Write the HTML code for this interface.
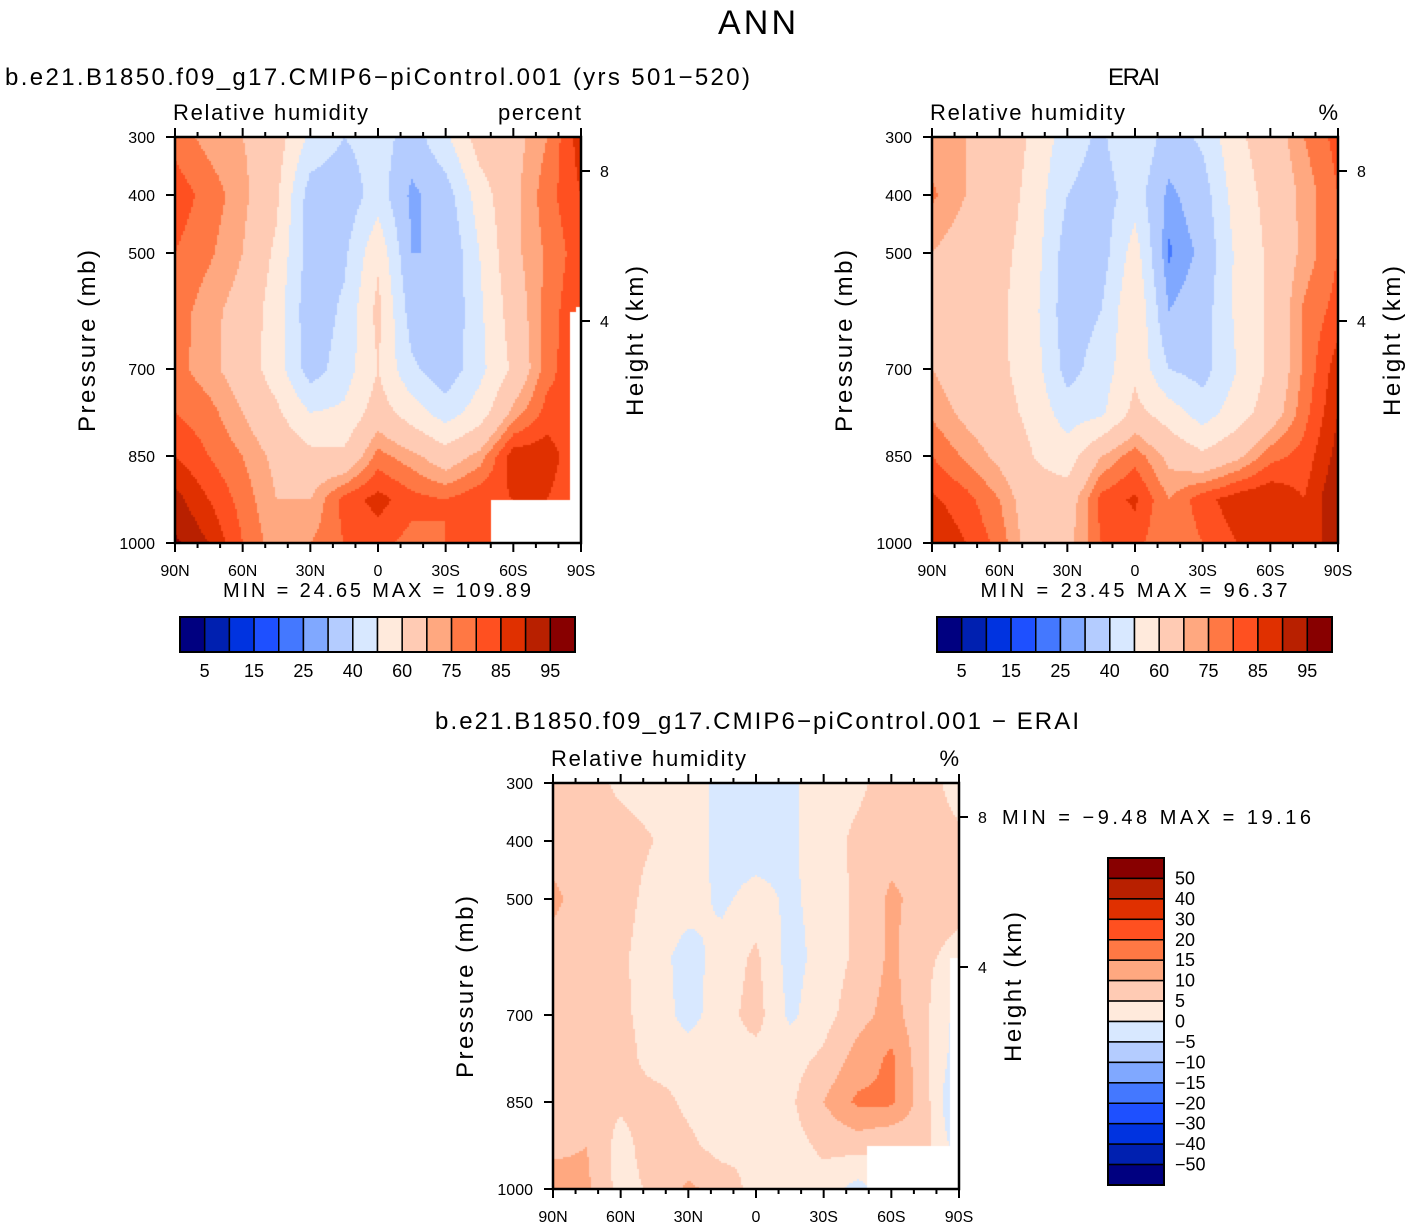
<!DOCTYPE html>
<html><head><meta charset="utf-8">
<style>
html,body{margin:0;padding:0;background:#fff;}
body{width:1411px;height:1228px;position:relative;overflow:hidden;font-family:"Liberation Sans",sans-serif;}
svg{position:absolute;left:0;top:0;}
canvas{position:absolute;}
</style></head>
<body>
<canvas id="c1" width="406" height="406" style="left:175px;top:137px"></canvas>
<canvas id="c2" width="406" height="406" style="left:932px;top:137px"></canvas>
<canvas id="c3" width="406" height="406" style="left:553px;top:783px"></canvas>
<svg id="s" width="1411" height="1228"></svg>
<script>
// ---- data ----
const lats = ["90N","75N","60N","45N","30N","15N","0","15S","30S","45S","60S","75S","90S"];
const pressures = [300,400,500,600,700,775,850,925,1000];
const xTickLabels = ["90N","60N","30N","0","30S","60S","90S"];
const yTickLabels = [300,400,500,700,850,1000];
const absLevels = [5,10,15,20,25,30,40,50,60,70,75,80,85,90,95];
const absLabels = ["5","15","25","40","60","75","85","95"];
const diffLevels = [-50,-40,-30,-20,-15,-10,-5,0,5,10,15,20,30,40,50];
const diffLabels = ["50","40","30","20","15","10","5","0","−5","−10","−15","−20","−30","−40","−50"];
const colors = ["#000080","#0020b0","#0033e0","#1e50ff","#4478ff","#80a8ff","#b4ccff","#d8e8ff","#ffeadc","#ffcbb4","#ffa880","#ff7844","#ff5020","#e03000","#b82000","#880000"];
const modelRH = [
 [78,73,70,65,48,40,45,35,48,65,67,75,88],
 [83,78,72,62,35,33,45,28,35,55,68,78,85],
 [80,76,70,58,35,38,58,30,30,50,68,76,83],
 [78,72,67,55,33,42,63,35,30,48,65,77,85],
 [77,72,66,55,35,45,60,42,33,47,62,78,85],
 [80,77,70,62,50,52,65,55,45,55,72,82,80],
 [85,80,75,68,63,62,77,72,65,72,88,88,80],
 [92,85,78,70,70,82,87,82,80,84,85,85,80],
 [96,90,80,72,75,80,82,78,80,82,85,85,80]];
const eraiRH = [
 [72,70,68,58,45,38,50,35,42,58,65,75,82],
 [76,70,66,56,40,35,45,28,35,55,63,72,80],
 [70,66,63,55,35,35,55,24,32,52,62,72,80],
 [68,65,62,53,34,40,60,30,35,52,62,76,82],
 [70,65,62,55,36,45,58,40,36,50,62,76,88],
 [74,68,64,57,45,48,63,55,45,55,65,78,90],
 [80,74,68,60,55,70,78,68,62,68,78,82,92],
 [86,82,75,64,65,82,86,75,83,88,90,85,95],
 [90,85,78,65,68,80,82,75,80,85,86,85,95]];
const diffRH = [
 [7,7,4,3,3,-2,-2,-1,3,4,7,7,3],
 [8,7,7,5,3,-2,-3,-1,3,6,8,7,6],
 [11,8,7,3,2,-1,2,-1,2,6,11,8,7],
 [8,7,6,2,-2,2,6,-2,2,6,11,6,3],
 [8,7,6,3,-2,3,7,-1,3,8,12,6,-2],
 [7,7,7,3,3,3,3,3,6,12,16,6,-3],
 [7,6,6,7,4,3,3,4,10,16,16,7,-7],
 [9,10,3,8,6,3,5,3,6,7,5,7,-3],
 [12,11,3,6,11,8,3,3,3,-2,3,3,3]];

// ---- axis functions ----
const W=406,H=406;
const xOf = i => i/(lats.length-1)*W;
const yOfP = p => (p-300)/700*H;
function sample(field,px,py){
  const fi = px/W*(lats.length-1);
  const p = 300+py/H*700;
  let r=0; while(r<pressures.length-2 && p>pressures[r+1]) r++;
  const t=(p-pressures[r])/(pressures[r+1]-pressures[r]);
  const i0=Math.min(Math.floor(fi),lats.length-2), u=fi-i0;
  const a=field[r][i0],b=field[r][i0+1],c=field[r+1][i0],d=field[r+1][i0+1];
  return (a*(1-u)+b*u)*(1-t)+(c*(1-u)+d*u)*t;
}
function colorFor(v,levels){let k=0;while(k<levels.length&&v>=levels[k])k++;return colors[k];}
function drawField(id,field,levels){
  const ctx=document.getElementById(id).getContext('2d');
  const st=2;
  for(let y=0;y<H;y+=st)for(let x=0;x<W;x+=st){
    ctx.fillStyle=colorFor(sample(field,x+1,y+1),levels);
    ctx.fillRect(x,y,st,st);
  }
}
drawField('c1',modelRH,absLevels);
drawField('c2',eraiRH,absLevels);
drawField('c3',diffRH,diffLevels);
// missing-data masks
(function(){
  let c=document.getElementById('c1').getContext('2d');c.fillStyle='#fff';
  c.fillRect(316,363,90,43);c.fillRect(395,175,11,200);c.fillRect(401,170,5,10);
  c=document.getElementById('c3').getContext('2d');c.fillStyle='#fff';
  c.fillRect(314,363,92,43);c.fillRect(397,175,9,200);
})();

const NS="http://www.w3.org/2000/svg";
const svg=document.getElementById('s');
function el(tag,attrs,parent){const e=document.createElementNS(NS,tag);for(const k in attrs)e.setAttribute(k,attrs[k]);(parent||svg).appendChild(e);return e;}
function txt(s,x,y,size,anchor,name,extra){const t=el('text',Object.assign({x:x,y:y,'font-size':size,'text-anchor':anchor||'start','font-family':'Liberation Sans, sans-serif',fill:'#000'},extra||{}));t.textContent=s;


return t;}
function fit(len){return {textLength:len,lengthAdjust:'spacing'};}

txt("ANN",757,34,34,"middle","figure-title",fit(78));

function axes(ox,oy,prefix){
  const fr=el('rect',{x:ox,y:oy,width:W,height:H,fill:'none',stroke:'#000','stroke-width':2.5});
  
  
  for(let d=0;d<=180;d+=10){
    const x=ox+d/180*W, major=d%30===0, L=major?9:5;
    el('line',{x1:x,y1:oy,x2:x,y2:oy-L,stroke:'#000','stroke-width':2});
    el('line',{x1:x,y1:oy+H,x2:x,y2:oy+H+L,stroke:'#000','stroke-width':2});
  }
  xTickLabels.forEach((s,i)=>txt(s,ox+i/(xTickLabels.length-1)*W,oy+H+33,16,"middle",prefix+'-x-tick-label'));
  yTickLabels.forEach(p=>{
    const y=oy+yOfP(p);
    el('line',{x1:ox,y1:y,x2:ox-9,y2:y,stroke:'#000','stroke-width':2});
    txt(String(p),ox-20,y+6,16,"end",prefix+'-y-tick-label');
  });
  [[8,34],[4,184]].forEach(([km,dy])=>{
    const y=oy+dy;
    el('line',{x1:ox+W,y1:y,x2:ox+W+9,y2:y,stroke:'#000','stroke-width':2});
    txt(String(km),ox+W+19,y+6,16,"start",prefix+'-height-tick-label');
  });
  txt("Pressure  (mb)",0,0,24,"middle",prefix+'-y-axis-title',Object.assign({transform:`translate(${ox-80},${oy+204}) rotate(-90)`},fit(182)));
  txt("Height  (km)",0,0,24,"middle",prefix+'-height-axis-title',Object.assign({transform:`translate(${ox+W+62},${oy+204}) rotate(-90)`},fit(150)));
  txt("Relative humidity",ox-2,oy-17,22,"start",prefix+'-variable-label',fit(195));
}
function panel(ox,oy,title,titleAnchor,titleX,titleLen,units,unitsLen,minmax,mmx,mmy,mmLen,prefix){
  txt(title,titleX,85,24,titleAnchor,prefix+'-title',fit(titleLen));
  txt(units,ox+W,oy-17,22,"end",prefix+'-units-label',fit(unitsLen));
  axes(ox,oy,prefix);
  txt(minmax,mmx,mmy,20,"middle",prefix+'-min-max-label',Object.assign({'xml:space':'preserve'},fit(mmLen)));
}
panel(175,137,"b.e21.B1850.f09_g17.CMIP6−piControl.001 (yrs 501−520)","start",5,745,"percent",83,"MIN =   24.65   MAX = 109.89",377,597,308,"model");
panel(932,137,"ERAI","middle",1134,52,"%",16,"MIN =   23.45   MAX =   96.37",1134,597,307,"erai");
(function(){
  const ox=553,oy=783;
  txt("b.e21.B1850.f09_g17.CMIP6−piControl.001  −  ERAI",757,729,24,"middle","diff-title",fit(644));
  txt("%",ox+W,oy-17,22,"end","diff-units-label",fit(16));
  axes(ox,oy,"diff");
  txt("MIN =    −9.48    MAX =    19.16",1002,824,20,"start","diff-min-max-label",Object.assign({'xml:space':'preserve'},fit(309)));
})();

// horizontal colorbars
function hbar(x0,y0,prefix){
  const bw=(575-180)/colors.length;
  colors.forEach((c,k)=>{
    const r=el('rect',{x:x0+k*bw,y:y0,width:bw,height:35,fill:c,stroke:'#000','stroke-width':1.5});
    
    
  });
  el('rect',{x:x0,y:y0,width:bw*colors.length,height:35,fill:'none',stroke:'#000','stroke-width':2});
  absLabels.forEach((s,j)=>txt(s,x0+(2*j+1)*bw,y0+60,18,"middle",prefix+'-colorbar-label'));
}
hbar(180,617,"model");
hbar(937,617,"erai");
(function(){
  const x0=1108,y0=858,bh=(1185-858)/colors.length;
  for(let k=0;k<colors.length;k++){
    const r=el('rect',{x:x0,y:y0+k*bh,width:56,height:bh,fill:colors[colors.length-1-k],stroke:'#000','stroke-width':1.5});
    
    
  }
  el('rect',{x:x0,y:y0,width:56,height:bh*colors.length,fill:'none',stroke:'#000','stroke-width':2});
  diffLabels.forEach((s,j)=>txt(s,1175,y0+(j+1)*bh+6,18,"start","diff-colorbar-label"));
})();
</script>
</body></html>
